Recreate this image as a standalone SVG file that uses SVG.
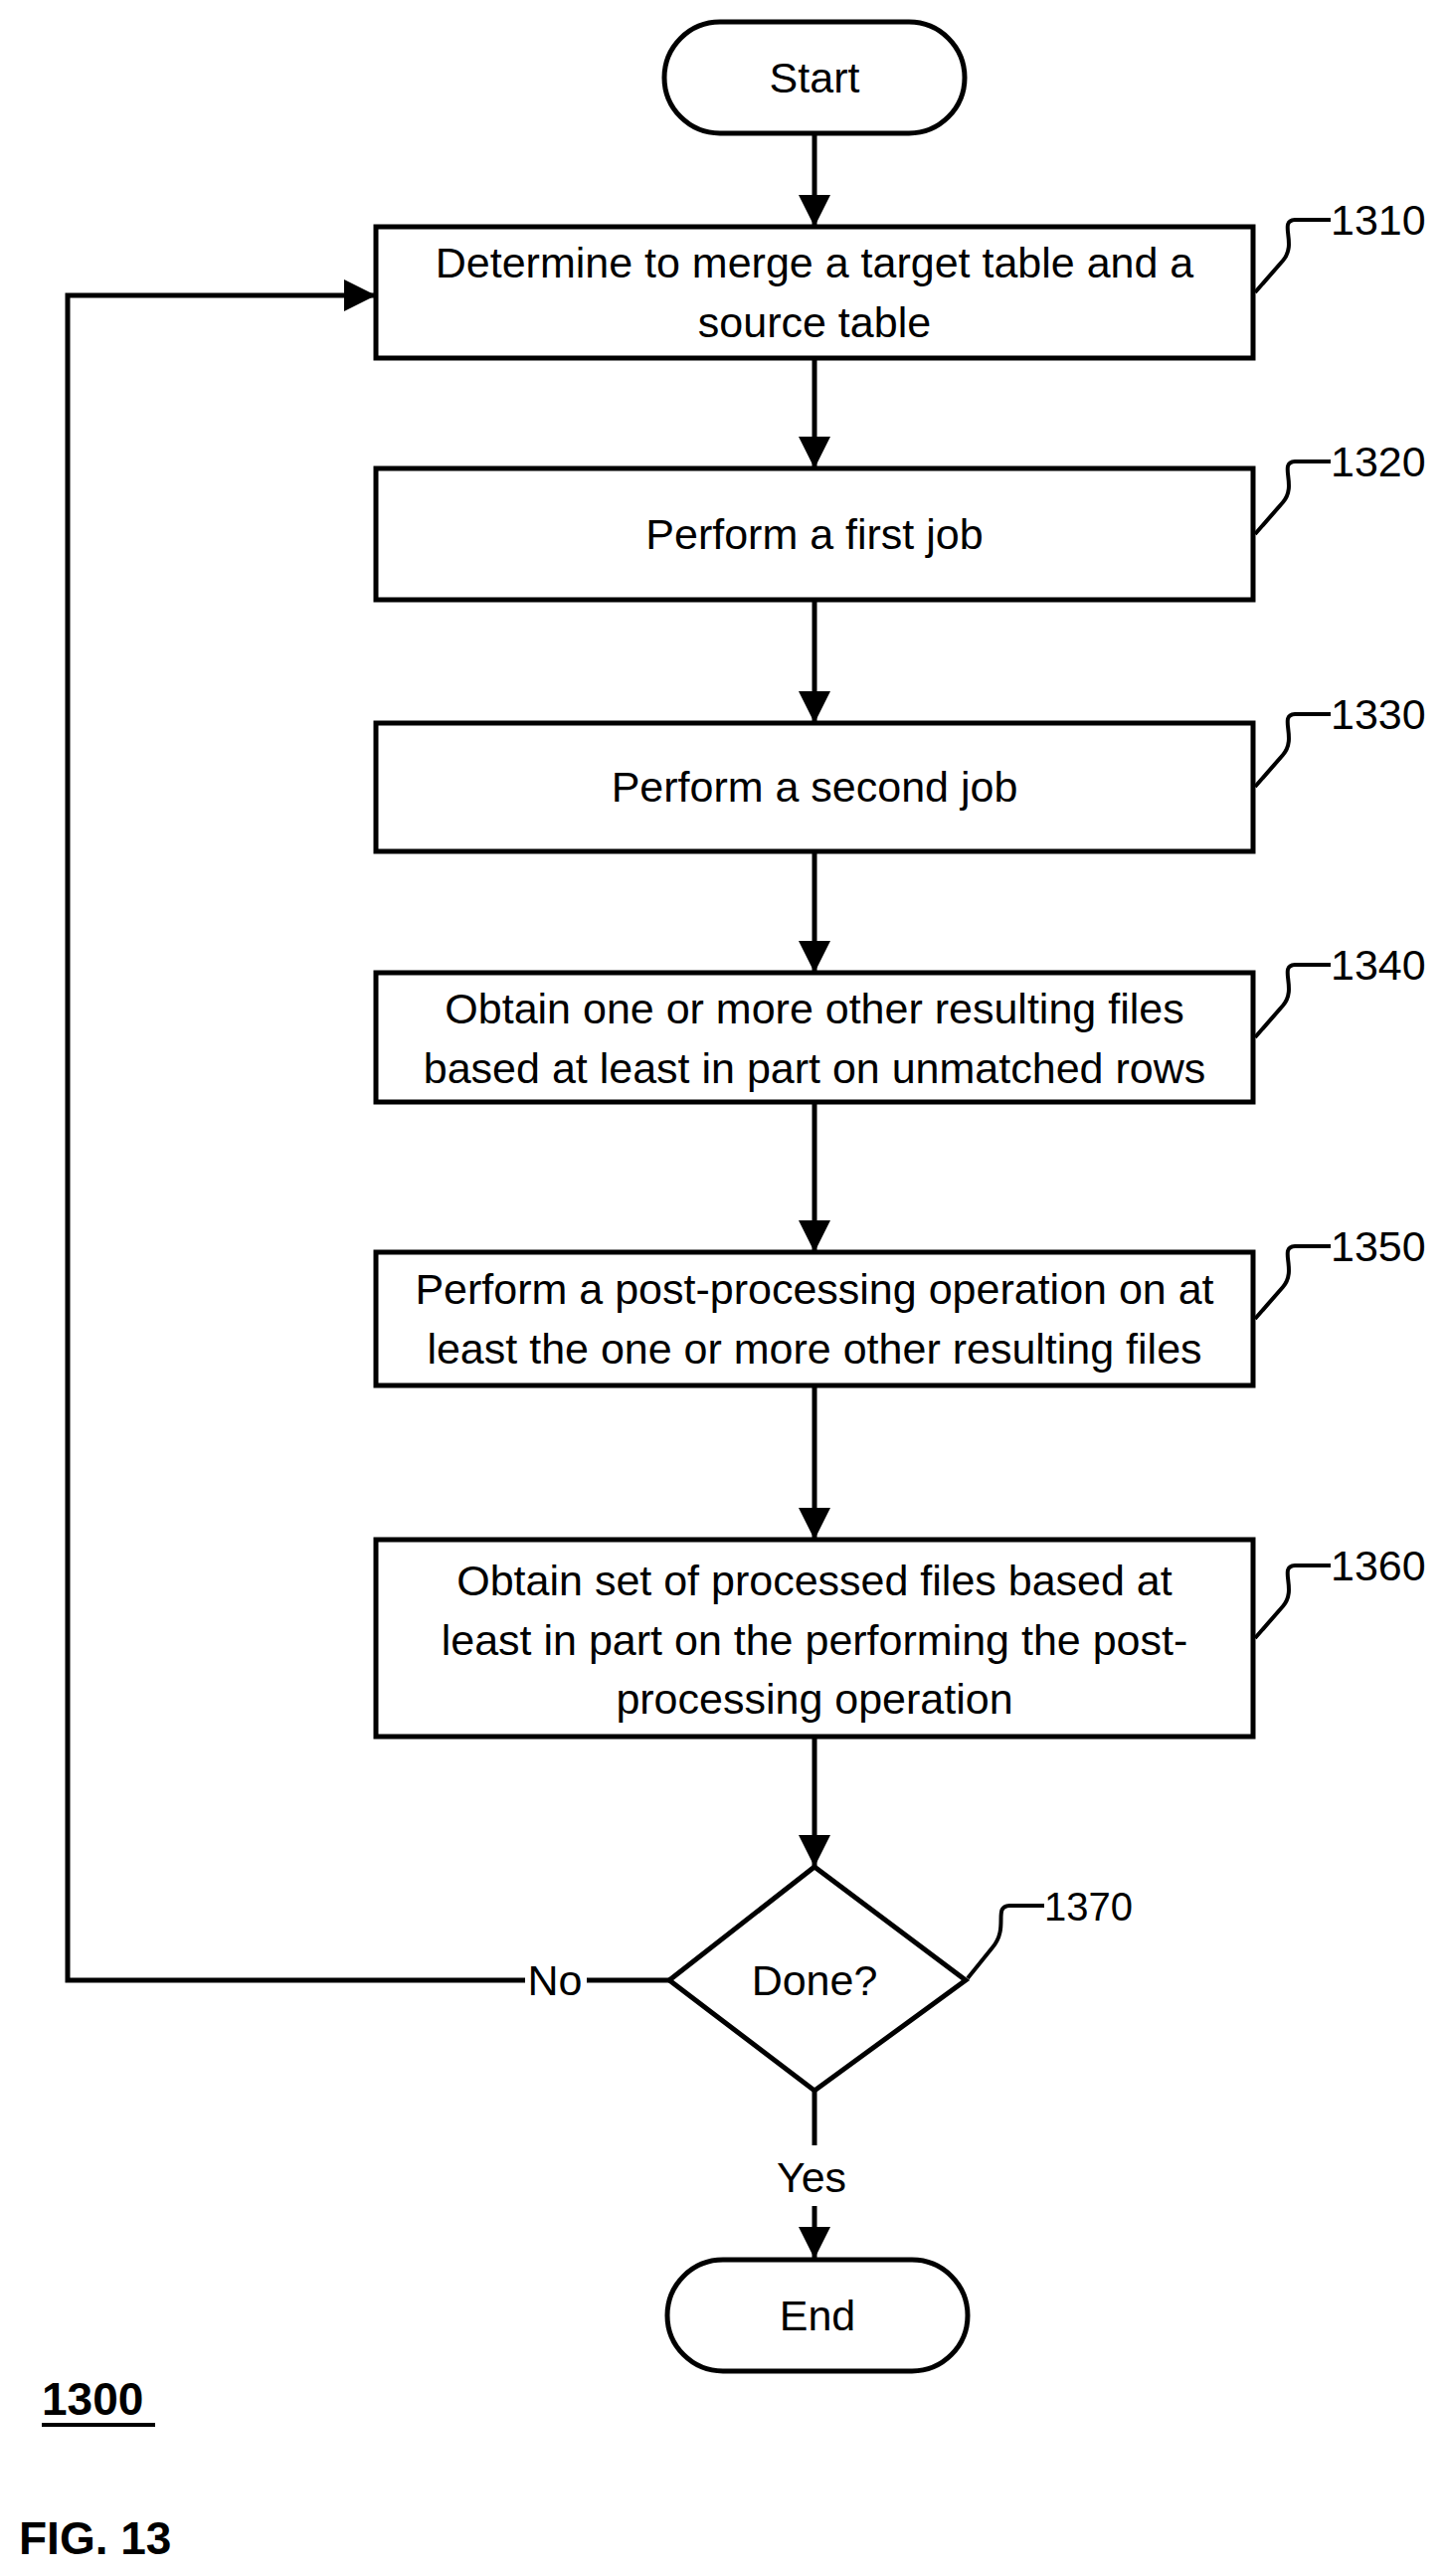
<svg xmlns="http://www.w3.org/2000/svg" width="1454" height="2590" viewBox="0 0 1454 2590">
<style>
.s{fill:#fff;stroke:#000;stroke-width:5}
.t{font-family:"Liberation Sans",Arial,sans-serif;font-size:43px;text-anchor:middle;dominant-baseline:central;fill:#000}
.r{font-family:"Liberation Sans",Arial,sans-serif;font-size:43px;fill:#000}
.l{fill:none;stroke:#000;stroke-width:5}
.ld{fill:none;stroke:#000;stroke-width:4}
.b{font-family:"Liberation Sans",Arial,sans-serif;font-size:46px;font-weight:bold;fill:#000}
</style>
<defs>
<marker id="a" markerUnits="userSpaceOnUse" markerWidth="32" markerHeight="44" refX="32" refY="16" orient="auto" viewBox="0 0 32 32">
<path d="M0,0 L32,16 L0,32 z" fill="#000"/>
</marker>
</defs>
<g id="connectors">
<line class="l" x1="819" y1="136" x2="819" y2="228" marker-end="url(#a)"/>
<line class="l" x1="819" y1="360" x2="819" y2="471" marker-end="url(#a)"/>
<line class="l" x1="819" y1="603" x2="819" y2="727" marker-end="url(#a)"/>
<line class="l" x1="819" y1="856" x2="819" y2="978" marker-end="url(#a)"/>
<line class="l" x1="819" y1="1108" x2="819" y2="1259" marker-end="url(#a)"/>
<line class="l" x1="819" y1="1393" x2="819" y2="1548" marker-end="url(#a)"/>
<line class="l" x1="819" y1="1746" x2="819" y2="1877" marker-end="url(#a)"/>
<line class="l" x1="819" y1="2102" x2="819" y2="2157"/>
<line class="l" x1="819" y1="2218" x2="819" y2="2271" marker-end="url(#a)"/>
<polyline class="l" points="673,1991 590,1991"/>
<polyline class="l" points="528,1991 68,1991 68,297 378,297" marker-end="url(#a)"/>
<text class="t" x="558" y="1991">No</text>
<text class="t" x="816" y="2189">Yes</text>
</g>
<g id="start"><rect class="s" x="668" y="22" width="302" height="112" rx="56"/><text class="t" x="819" y="78">Start</text></g>
<g id="n1310"><rect class="s" x="378" y="228" width="882" height="132"/><text class="t" x="819" y="264">Determine to merge a target table and a</text><text class="t" x="819" y="324">source table</text>
<path class="ld" d="M1262,294 L1290,262 C1305,245 1285,222 1302,221 L1338,221"/><text class="r" x="1338" y="236">1310</text></g>
<g id="n1320"><rect class="s" x="378" y="471" width="882" height="132"/><text class="t" x="819" y="537">Perform a first job</text>
<path class="ld" d="M1262,537 L1290,505 C1305,488 1285,465 1302,464 L1338,464"/><text class="r" x="1338" y="479">1320</text></g>
<g id="n1330"><rect class="s" x="378" y="727" width="882" height="129"/><text class="t" x="819" y="791">Perform a second job</text>
<path class="ld" d="M1262,791 L1290,759 C1305,742 1285,719 1302,718 L1338,718"/><text class="r" x="1338" y="733">1330</text></g>
<g id="n1340"><rect class="s" x="378" y="978" width="882" height="130"/><text class="t" x="819" y="1014">Obtain one or more other resulting files</text><text class="t" x="819" y="1074">based at least in part on unmatched rows</text>
<path class="ld" d="M1262,1043 L1290,1011 C1305,994 1285,971 1302,970 L1338,970"/><text class="r" x="1338" y="985">1340</text></g>
<g id="n1350"><rect class="s" x="378" y="1259" width="882" height="134"/><text class="t" x="819" y="1296">Perform a post-processing operation on at</text><text class="t" x="819" y="1356">least the one or more other resulting files</text>
<path class="ld" d="M1262,1326 L1290,1294 C1305,1277 1285,1254 1302,1253 L1338,1253"/><text class="r" x="1338" y="1268">1350</text></g>
<g id="n1360"><rect class="s" x="378" y="1548" width="882" height="198"/><text class="t" x="819" y="1589">Obtain set of processed files based at</text><text class="t" x="819" y="1649">least in part on the performing the post-</text><text class="t" x="819" y="1708">processing operation</text>
<path class="ld" d="M1262,1647 L1290,1615 C1305,1598 1285,1575 1302,1574 L1338,1574"/><text class="r" x="1338" y="1589">1360</text></g>
<g id="n1370"><polygon class="s" points="819,1877 971,1991 819,2102 673,1991"/><text class="t" x="819" y="1991">Done?</text>
<path class="ld" d="M973,1989 L998,1958 C1015,1938 998,1917 1015,1916 L1050,1916"/><text class="r" x="1050" y="1931" style="font-size:40px">1370</text></g>
<g id="end"><rect class="s" x="671" y="2272" width="302" height="112" rx="56"/><text class="t" x="822" y="2328">End</text></g>
<g id="labels"><text class="b" x="42" y="2428">1300</text><line x1="42" y1="2438" x2="156" y2="2438" stroke="#000" stroke-width="4"/><text class="b" x="19" y="2568">FIG. 13</text></g>
</svg>
